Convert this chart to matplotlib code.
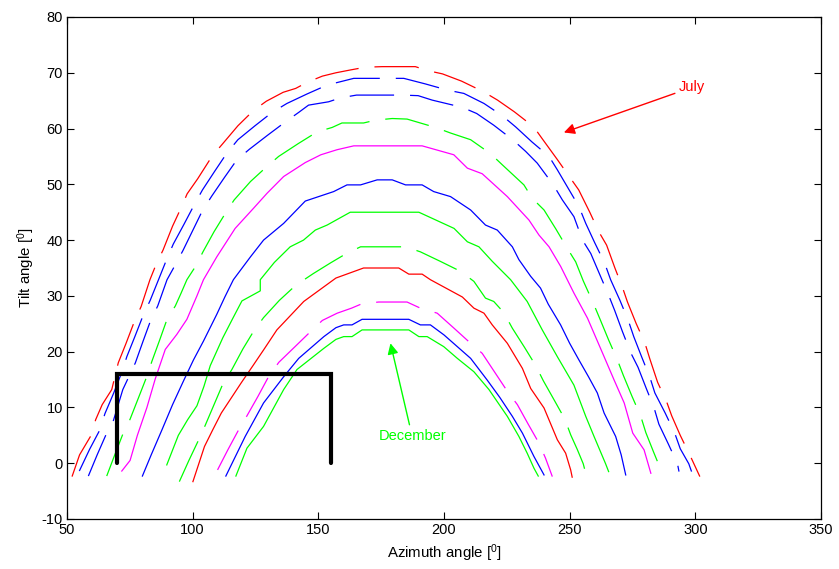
import matplotlib
matplotlib.use("Agg")
import matplotlib.pyplot as plt

plt.rcParams['font.family'] = ['Liberation Sans', 'DejaVu Sans']
plt.rcParams['mathtext.fontset'] = 'custom'
plt.rcParams['mathtext.rm'] = 'Liberation Sans'
plt.rcParams['mathtext.it'] = 'Liberation Sans'
plt.rcParams['lines.scale_dashes'] = False
plt.rcParams['axes.unicode_minus'] = False

# ---- data (azimuth [deg], tilt [deg]) ----
c1_az = [52.0, 55, 59.6, 61.4, 64, 67.8, 70.4, 73.5, 76.8, 79.5, 83, 85.5, 88.2, 92, 95.4, 97.8, 102, 107.8,
         111.8, 118, 124.1, 129.3, 136, 141, 145.6, 151.6, 157, 162.7, 168.7, 175.4, 188.6, 193.4, 199.4, 207,
         215.7, 221.3, 228, 235.7, 239.2, 245, 250, 253.6, 258, 261.6, 264.7, 268, 271.1, 273, 276.5, 279.9,
         281.9, 285, 288.6, 290.6, 294, 298.2, 301.8]
c1_tilt = [-2.4, 1.5, 5.0, 7.8, 10.5, 13.2, 18, 21.5, 25.4, 28.1, 32.9, 35.7, 38.2, 42.5, 45.8, 48.3, 51, 55.1,
           57.2, 60.5, 63.2, 64.9, 66.5, 67.2, 68.3, 69.4, 70, 70.5, 71.0, 71.1, 71.1, 70.4, 69.8, 68.5,
           66.6, 65.1, 63, 60.3, 58.1, 54.5, 51.3, 49, 45, 41.5, 39.1, 35, 31.4, 28.9, 25, 21.6,
           18.7, 14.5, 11, 8.5, 5, 1.1, -2.4]

c2_az = [54.9, 59, 63.1, 65.1, 68.5, 71.8, 73.8, 77, 80.2, 83.1, 86.5, 89.7, 92.3, 96.5, 100.7, 103.9, 108.7,
         113.6, 118, 124.8, 131.6, 137.5, 145.5, 153.5, 159.7, 164.1, 177.6, 184, 192.6, 201.3, 207.9, 215.9,
         223.2, 228.5, 235, 241.8, 245.1, 249.4, 253.7, 256.4, 260, 263.9, 266.3, 270, 273.4, 275.5, 278.7,
         282, 283.9, 288, 291.8, 294, 297.4, 298.5]
c2_tilt = [-1.4, 2.5, 6.0, 8.9, 12.5, 16.3, 19.1, 22.7, 26.4, 29.2, 33, 36.6, 39.3, 42.8, 46.4, 49.0, 52.3,
           55.6, 58.0, 60.5, 62.9, 64.5, 66.2, 67.8, 68.5, 69.0, 69.0, 69.0, 68.0, 66.9, 66.3, 64.5,
           62.3, 60.3, 57.6, 55.0, 52.6, 49.3, 46.0, 43.0, 39.5, 35.9, 32.9, 29.2, 25.5, 22.7, 19,
           15.3, 12.6, 9, 5.4, 2.6, -0.1, -1.5]

c3_az = [58.5, 62, 65.6, 68.5, 72.2, 77.2, 80.2, 83.2, 86.1, 89.8, 93, 96.1, 100, 103.9, 107.6, 112.6, 117.6,
         122.6, 129.8, 136.9, 142.2, 146.1, 154.1, 158.8, 165.2, 183.3, 189.7, 195.3, 207.3, 213, 219.8,
         227.6, 232.5, 237.1, 243.5, 247.1, 251.7, 255.1, 258.4, 262, 265.7, 267.9, 271, 274.3, 277.2,
         280.4, 283.6, 285.5, 289.2, 292.9, 293.5]
c3_tilt = [-2.3, 1.5, 5.2, 7.7, 13.2, 18.0, 21.8, 25.5, 28.2, 32.9, 35.5, 38.1, 41.7, 45.3, 47.9, 51.2, 54.4,
           56.3, 58.8, 61.2, 62.9, 64.2, 64.8, 65.5, 66.0, 66.0, 65.9, 65.1, 63.8, 62.7, 60.6,
           57.9, 55.9, 53.8, 49.9, 47.2, 44.2, 40.0, 37.6, 33.8, 29.9, 27.4, 23.6, 19.8, 17.2,
           13.5, 9.9, 7.0, 3.5, -0.1, -1.5]

c4_az = [65.8, 69, 72.2, 75.1, 78.5, 81.8, 83.8, 86.8, 89.8, 93.1, 95.4, 97.7, 101.3, 104.1, 108.5, 113,
         116.5, 123, 129.3, 134.2, 142, 149.5, 155.5, 159.4, 168, 172.7, 179.4, 185.3, 196.6, 202.6, 210.6,
         218.5, 223.2, 231.8, 235.1, 239.8, 244.5, 249.1, 252.4, 255.4, 259.4, 262.1, 265.5, 269, 271.4,
         274.8, 278.3, 280.3, 283.3, 286.3]
c4_tilt = [-2.3, 1.5, 5.2, 7.9, 11.8, 15.6, 18.3, 22, 25.8, 28.2, 30.5, 32.9, 35.4, 37.9, 41.5, 44.8,
           47.2, 50.5, 53.1, 55.0, 57.3, 59.4, 60.2, 61.0, 61.0, 61.5, 61.8, 61.7, 60.2, 59.2, 58.0,
           55.5, 53.5, 49.9, 47.5, 45.4, 42, 38.5, 36.1, 32.7, 28.7, 25.8, 22.1, 18.5, 15.7,
           12, 8.4, 5.5, 2.1, -1.2]

c5_az = [71.8, 75.1, 78, 81.8, 85.1, 89.1, 93.7, 97.7, 101.7, 104.3, 109.6, 116.9, 124.2, 129.6, 136.2,
         144.8, 151, 157.4, 164.1, 191.3, 203.9, 209.3, 215.2, 225.2, 233.8, 237.8, 241.8, 246.4, 251.7,
         257.1, 263.7, 267.7, 271.7, 275.1, 279.6, 282.3]
c5_tilt = [-1.4, 0.5, 5.0, 10.0, 15.1, 20.4, 23.1, 25.8, 30.0, 32.9, 37.0, 42.1, 45.7, 48.4, 51.4,
           53.9, 55.3, 56.2, 56.9, 56.9, 55.3, 52.9, 51.9, 47.8, 43.6, 40.9, 38.8, 35.3, 30.5,
           26.0, 19.1, 14.9, 10.8, 5.4, 2.4, -1.8]

c6_az = [80, 83.5, 87.7, 92, 96.3, 100.3, 104.3, 109.6, 112.8, 116.2, 123, 128.2, 136.2, 144.8, 156.1, 161.4,
         166.8, 173.4, 179.4, 184.7, 191.3, 195.9, 202.6, 210.6, 216.5, 221.2, 227.2, 229.8, 234.5, 238.4,
         241.5, 246.4, 250, 253.7, 257.5, 261, 263.7, 268.3, 270.5, 272.3]
c6_tilt = [-2.3, 1.5, 5.9, 10.5, 14.7, 18.5, 21.9, 26.7, 29.8, 32.9, 37.0, 40.0, 43.0, 47.0, 48.7, 49.9,
           49.9, 50.8, 50.8, 49.9, 49.9, 48.7, 47.8, 45.4, 42.7, 41.8, 38.8, 36.5, 33.5, 31.4,
           28.5, 24.8, 21.5, 18.5, 15.5, 12.6, 9.0, 4.8, 1.5, -2.1]

c7_az = [89.7, 94.3, 98, 101.7, 104.5, 107, 112, 116, 119.6, 126.9, 126.9, 132.5, 138.8, 144.1, 148.8, 153.5,
         162.7, 190, 204, 209.3, 213.9, 219.2, 226.5, 233.1, 239.1, 245.1, 251.7, 256.4, 259.7, 264.3, 265.5]
c7_tilt = [-0.3, 5.0, 7.8, 10.3, 13.8, 17.5, 22.5, 26, 29.1, 30.9, 32.9, 36, 38.8, 40.0, 41.8, 42.7,
           45.0, 45.0, 42.1, 39.7, 38.8, 36.2, 32.9, 29.0, 23.9, 19.1, 14.0, 8.4, 4.8, -0.1, -1.5]

c8_az = [94.7, 98.5, 102.4, 105, 108.5, 112, 115.6, 120, 124.3, 128.2, 134.5, 141, 148, 154.8, 160.8, 166.8,
         184.7, 190.6, 198.5, 206.6, 211.9, 216.5, 219.8, 223.8, 227.2, 232, 236.5, 239.5, 244, 248.1,
         250.4, 253, 255.4, 256.5]
c8_tilt = [-3.3, 0.5, 4.2, 6.8, 10.5, 14.2, 16.8, 20.5, 23.7, 26.1, 29.2, 31.9, 34, 35.9, 37.5, 38.8,
           38.8, 37.9, 36.2, 34.4, 32.6, 29.6, 29.0, 27.0, 24.2, 20.8, 17.5, 14.8, 11.2, 7.9,
           5.1, 2.5, -0.1, -2]

c9_az = [100.1, 104.7, 108, 111.4, 115.5, 119.3, 124, 128.2, 133.5, 144.2, 157, 168, 182, 186, 191.3, 194.6,
         207.3, 211.9, 215.9, 219.2, 225.2, 231.2, 234.5, 239.8, 245.1, 248.4, 250.4, 251]
c9_tilt = [-3.3, 3.0, 6.0, 9.0, 11.8, 14.4, 17.5, 20.3, 23.9, 29.0, 33.2, 35.0, 35.0, 33.9, 33.9, 32.9,
           29.8, 27.8, 26.9, 24.8, 21.5, 17.0, 13.4, 9.9, 4.2, 1.8, -1.2, -2.5]

c10_az = [109.9, 114, 118.3, 121.6, 126, 130.3, 134.3, 140.5, 146.9, 151.6, 157.5, 163.2, 167.4, 174, 185.3,
          190.6, 197.3, 204, 210.6, 215.2, 220.2, 225.2, 229.2, 233.5, 237.8, 240.4, 243.1]
c10_tilt = [-1.2, 2.4, 6.0, 8.5, 12.0, 15.6, 18.1, 20.8, 23.6, 25.6, 26.9, 27.8, 28.6, 28.9, 28.9,
            27.8, 26.9, 24.2, 21.5, 19.7, 16.3, 12.9, 10.5, 7.0, 3.6, 0.9, -2.4]

c11_az = [113.2, 120.9, 128.2, 136.2, 142.2, 152.2, 157, 160.1, 163.4, 167.4, 186, 190.6, 194.6, 200, 205.3,
          210.6, 217.2, 222.2, 227.2, 231.2, 235.8, 239.8]
c11_tilt = [-2.3, 4.8, 10.8, 15.5, 18.8, 22.7, 24.3, 24.8, 24.8, 25.8, 25.8, 24.8, 24.8, 23, 20.9,
            18.8, 14.9, 11.8, 8.4, 5.4, 1.2, -2.1]

c12_az = [117.2, 121.6, 128.2, 136.2, 141.5, 152.2, 157, 160.1, 163.4, 167.4, 186, 190, 193.3, 199.9, 205.3,
          211.9, 217.9, 225.2, 229.8, 233.1, 235.8, 237.5]
c12_tilt = [-2.3, 2.7, 6.6, 13.2, 16.8, 20.6, 22.2, 22.7, 22.7, 23.9, 23.9, 22.7, 22.7, 20.9, 18.8,
            16.4, 13.2, 8.4, 4.8, 1.8, -0.9, -2.3]

rect_az = [70, 70, 155, 155]
rect_tilt = [0, 16, 16, 0]

x_ticks = [50, 100, 150, 200, 250, 300, 350]
y_ticks = [-10, 0, 10, 20, 30, 40, 50, 60, 70, 80]

# ---- styles ----
DASH = (0, (32, 11.5))
curves = [
    (c1_az, c1_tilt, '#ff0000', DASH),
    (c2_az, c2_tilt, '#0000ff', DASH),
    (c3_az, c3_tilt, '#0000ff', DASH),
    (c4_az, c4_tilt, '#00ff00', DASH),
    (c5_az, c5_tilt, '#ff00ff', '-'),
    (c6_az, c6_tilt, '#0000ff', '-'),
    (c7_az, c7_tilt, '#00ff00', '-'),
    (c8_az, c8_tilt, '#00ff00', DASH),
    (c9_az, c9_tilt, '#ff0000', '-'),
    (c10_az, c10_tilt, '#ff00ff', DASH),
    (c11_az, c11_tilt, '#0000ff', '-'),
    (c12_az, c12_tilt, '#00ff00', '-'),
]

fig = plt.figure(figsize=(8.39, 5.69), dpi=100)
ax = fig.add_axes([67 / 839, 50 / 569, 754 / 839, 502 / 569])

for az, tl, col, ls in curves:
    ax.plot(az, tl, color=col, linestyle=ls, linewidth=0.9)

ax.plot(rect_az, rect_tilt, color='black', linewidth=3.0, solid_capstyle='round', solid_joinstyle='miter')

ax.annotate('July', xy=(247.7, 59.3), xytext=(293.5, 67.4), color='#ff0000', fontsize=10.5,
            ha='left', va='center',
            arrowprops=dict(arrowstyle='-|>', color='#ff0000', lw=1.0, mutation_scale=16,
                            shrinkA=1, shrinkB=0))
ax.annotate('December', xy=(178.7, 21.5), xytext=(187.3, 4.9), color='#00ff00', fontsize=10.5,
            ha='center', va='center',
            arrowprops=dict(arrowstyle='-|>', color='#00ff00', lw=1.0, mutation_scale=16,
                            shrinkA=1, shrinkB=0))

ax.set_xlim(50, 350)
ax.set_ylim(-10, 80)
ax.set_xticks(x_ticks)
ax.set_yticks(y_ticks)
ax.tick_params(direction='in', top=True, right=True, length=5, width=0.8, labelsize=10.5, pad=3)
for s in ax.spines.values():
    s.set_linewidth(0.9)
ax.set_xlabel('Azimuth angle [$^0$]', fontsize=10.8, labelpad=4)
ax.set_ylabel('Tilt angle [$^0$]', fontsize=10.8, labelpad=3)

fig.savefig('out.png', dpi=100)
